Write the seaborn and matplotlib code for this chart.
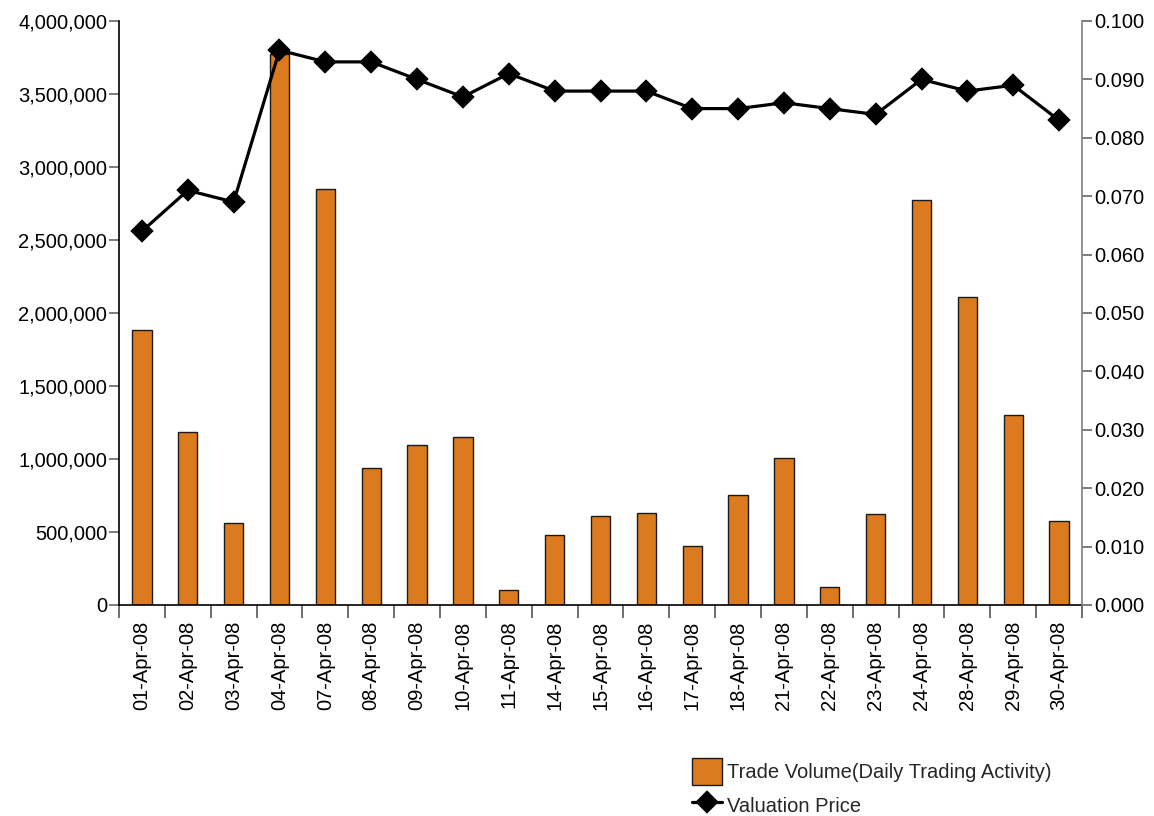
import numpy as np
import matplotlib
matplotlib.use("Agg")
import matplotlib.pyplot as plt
from matplotlib.ticker import FuncFormatter, FixedLocator
import seaborn as sns
import pandas as pd

sns.set_style("white")
plt.rcParams['font.family'] = ['Liberation Sans', 'DejaVu Sans']
plt.rcParams['font.size'] = 14.5

dates = ["01-Apr-08", "02-Apr-08", "03-Apr-08", "04-Apr-08", "07-Apr-08",
         "08-Apr-08", "09-Apr-08", "10-Apr-08", "11-Apr-08", "14-Apr-08",
         "15-Apr-08", "16-Apr-08", "17-Apr-08", "18-Apr-08", "21-Apr-08",
         "22-Apr-08", "23-Apr-08", "24-Apr-08", "28-Apr-08", "29-Apr-08",
         "30-Apr-08"]
volume = [1885000, 1187000, 562000, 3772000, 2847000,
          936000, 1098000, 1153000, 105000, 477000,
          607000, 630000, 404000, 751000, 1005000,
          125000, 621000, 2772000, 2110000, 1299000,
          575000]
price = [0.064, 0.071, 0.069, 0.095, 0.093,
         0.093, 0.090, 0.087, 0.091, 0.088,
         0.088, 0.088, 0.085, 0.085, 0.086,
         0.085, 0.084, 0.090, 0.088, 0.089,
         0.083]

vol_label = "Trade Volume(Daily Trading Activity)"
price_label = "Valuation Price"

df = pd.DataFrame({"date": dates, "volume": volume, "price": price})

fig = plt.figure(figsize=(11.54, 8.16), dpi=100)
ax = fig.add_axes([119/1154, 1-605/816, (1082-119)/1154, (605-21)/816])
ax2 = ax.twinx()

sns.barplot(data=df, x="date", y="volume", ax=ax, color="#DC7A1F",
            saturation=1, width=0.42, edgecolor="#1a1a1a", linewidth=1.0)
sns.pointplot(data=df, x="date", y="price", ax=ax2, color="black",
              markers="D", markersize=10.5, linewidth=2.3, errorbar=None)

n = len(dates)
ax.set_xlim(-0.5, n - 0.5)
ax.set_ylim(0, 4000000)
ax2.set_ylim(0, 0.1)
ax.set_yticks(np.arange(0, 4000001, 500000))
ax2.set_yticks(np.arange(0, 0.1001, 0.01))
ax.yaxis.set_major_formatter(FuncFormatter(lambda v, p: f"{v:,.0f}"))
ax2.yaxis.set_major_formatter(FuncFormatter(lambda v, p: f"{v:.3f}"))

for a in (ax, ax2):
    a.set_xlabel("")
    a.set_ylabel("")
    a.spines['top'].set_visible(False)

ax.spines['left'].set_color("black")
ax.spines['bottom'].set_color("black")
ax.spines['right'].set_visible(False)
ax2.spines['left'].set_visible(False)
ax2.spines['bottom'].set_visible(False)
ax2.spines['right'].set_color("#7f7f7f")
for s in ax.spines.values():
    s.set_linewidth(1.2)
ax2.spines['right'].set_linewidth(1.2)

# tick marks sit between the categories
ax.xaxis.set_minor_locator(FixedLocator(np.arange(-0.5, n, 1.0)))
ax.tick_params(axis='x', which='major', length=0, pad=11, rotation=90,
               labelcolor="black")
ax.tick_params(axis='x', which='minor', length=9.5, width=1.2,
               color="#555555", direction='out', bottom=True)
ax.tick_params(axis='y', length=7.5, width=1.2, color="#666666",
               direction='out', pad=1, left=True, labelcolor="black")
ax2.tick_params(axis='y', length=7.5, width=1.2, color="#666666",
                direction='out', pad=1, right=True, labelcolor="black")

handles = [ax.containers[0], ax2.lines[0]]
fig.legend(handles, [vol_label, price_label], loc="upper left",
           bbox_to_anchor=(692/1154, 1-758/816), frameon=False,
           borderpad=0, borderaxespad=0, handlelength=1.5, handleheight=1.7,
           handletextpad=0.25, labelspacing=0.33, fontsize=14.5)

fig.savefig("out.png", dpi=100)
